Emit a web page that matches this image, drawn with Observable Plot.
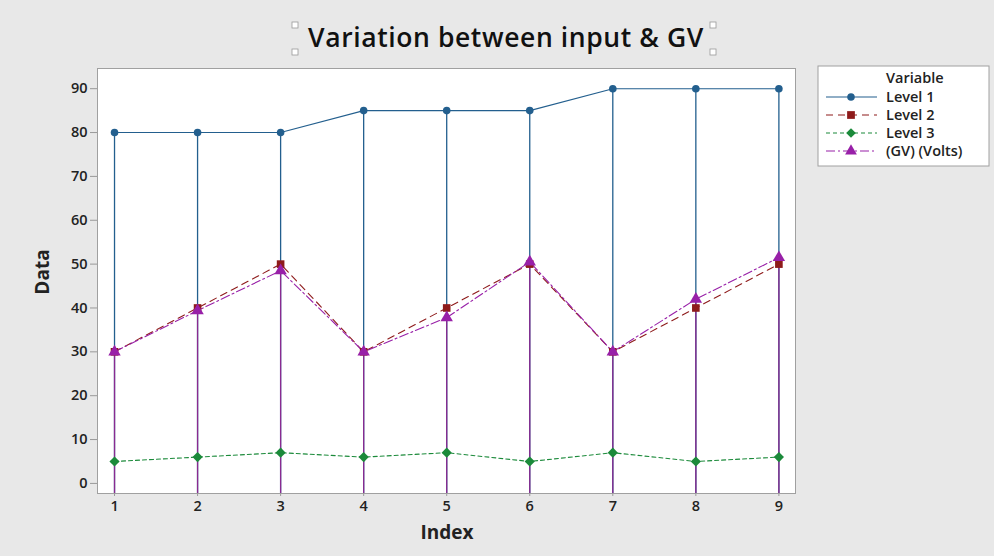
<!DOCTYPE html>
<html><head><meta charset="utf-8">
<script src="https://cdn.jsdelivr.net/npm/d3@7"></script>
<script src="https://cdn.jsdelivr.net/npm/@observablehq/plot@0.6"></script>
<style>
html,body{margin:0;padding:0;background:#e8e8e8;}
#chart{position:relative;width:994px;height:556px;}
svg{font-family:"Open Sans",sans-serif;}
</style>
</head><body><div id="chart"></div>
<script>
const index = [1,2,3,4,5,6,7,8,9];
const level1 = [80,80,80,85,85,85,90,90,90];
const level2 = [30,40,50,30,40,50,30,40,50];
const level3 = [5,6,7,6,7,5,7,5,6];
const gv = [30,39.4,48.5,30,37.8,50.5,30,42,51.5];
const seriesNames = ["Level 1","Level 2","Level 3","(GV) (Volts)"];
const colors = ["#235f8e","#8e1b1b","#1b8a3a","#9820a8"];
const symbols = ["circle","square","diamond2","triangle"];
const dashes = [null,"7,5","4,3","9,3,2,3"];
const yTicks = [0,10,20,30,40,50,60,70,80,90];

const all = [level1,level2,level3,gv];
const rows = index.map((x,i)=>({x, l1:level1[i], l2:level2[i], l3:level3[i], gv:gv[i]}));
const yMin = -2.3;

const marks = [
  Plot.frame({fill:"white"}),
  Plot.ruleX(rows,{x:"x",y1:yMin,y2:"l1",stroke:colors[0],strokeWidth:1.3}),
  Plot.ruleX(rows,{x:"x",y1:yMin,y2:"gv",stroke:"#8a2a90",strokeWidth:1.3}),
];
all.forEach((arr,s)=>{
  const d = index.map((x,i)=>({x,y:arr[i]}));
  marks.push(Plot.line(d,{x:"x",y:"y",stroke:colors[s],strokeWidth:1.1,strokeDasharray:dashes[s]}));
});
all.forEach((arr,s)=>{
  const d = index.map((x,i)=>({x,y:arr[i]}));
  marks.push(Plot.dot(d,{x:"x",y:"y",fill:colors[s],stroke:"none",symbol:symbols[s],r:s===1?4.3:(s===0?3.8:4.6)}));
});
marks.push(Plot.frame({stroke:"#a0a0a0"}));
marks.push(Plot.axisY({ticks:yTicks,tickSize:7,tickPadding:3,label:null,fontSize:14.5,fontWeight:600,stroke:"#999"}));
marks.push(Plot.axisX({ticks:index,tickSize:3,tickPadding:4,label:null,fontSize:14.5,fontWeight:600,stroke:"#999"}));

const svgEl = Plot.plot({
  width:994,height:556,
  marginLeft:97,marginRight:199,marginTop:68,marginBottom:63,
  style:{background:"#e8e8e8",color:"#222"},
  x:{domain:[0.795,9.2]},
  y:{domain:[yMin,94.6]},
  marks
});
document.getElementById("chart").appendChild(svgEl);
const svg = d3.select(svgEl);
svg.selectAll("g[aria-label='y-axis tick label'] text, g[aria-label='x-axis tick label'] text").attr("fill","#222");

// title
svg.append("text").attr("x",506).attr("y",47).attr("text-anchor","middle")
  .attr("font-size",26.5).attr("font-weight",600).attr("letter-spacing",0.6).attr("fill","#111").text("Variation between input & GV");
[[292,22],[292,49],[710,22],[710,49]].forEach(([x,y])=>{
  svg.append("rect").attr("x",x).attr("y",y).attr("width",6).attr("height",6).attr("fill","#fff").attr("stroke","#999").attr("stroke-width",0.8);
});
// axis labels
svg.append("text").attr("x",447).attr("y",539).attr("text-anchor","middle").attr("font-size",19).attr("font-weight",700).attr("fill","#222").text("Index");
svg.append("text").attr("transform","translate(49,272) rotate(-90)").attr("text-anchor","middle").attr("font-size",19).attr("font-weight",700).attr("fill","#222").text("Data");

// legend
const lg = svg.append("g").attr("text-anchor","start");
lg.append("rect").attr("x",818).attr("y",66).attr("width",171).attr("height",100).attr("fill","white").attr("stroke","#a0a0a0");
lg.append("text").attr("x",886).attr("y",83).attr("font-size",14.5).attr("font-weight",600).attr("fill","#222").text("Variable");
seriesNames.forEach((n,i)=>{
  const y = 97 + i*18;
  lg.append("line").attr("x1",826).attr("x2",877).attr("y1",y).attr("y2",y).attr("stroke",colors[i]).attr("stroke-width",1.2).attr("stroke-dasharray",dashes[i]);
  lg.append("path").attr("transform",`translate(851,${y})`).attr("d",d3.symbol(i===0?d3.symbolCircle:i===1?d3.symbolSquare:i===2?d3.symbolDiamond2:d3.symbolTriangle, i===0?45:60)()).attr("fill",colors[i]);
  lg.append("text").attr("x",886).attr("y",y+5).attr("font-size",14.5).attr("font-weight",600).attr("fill","#222").text(n);
});
</script></body></html>
